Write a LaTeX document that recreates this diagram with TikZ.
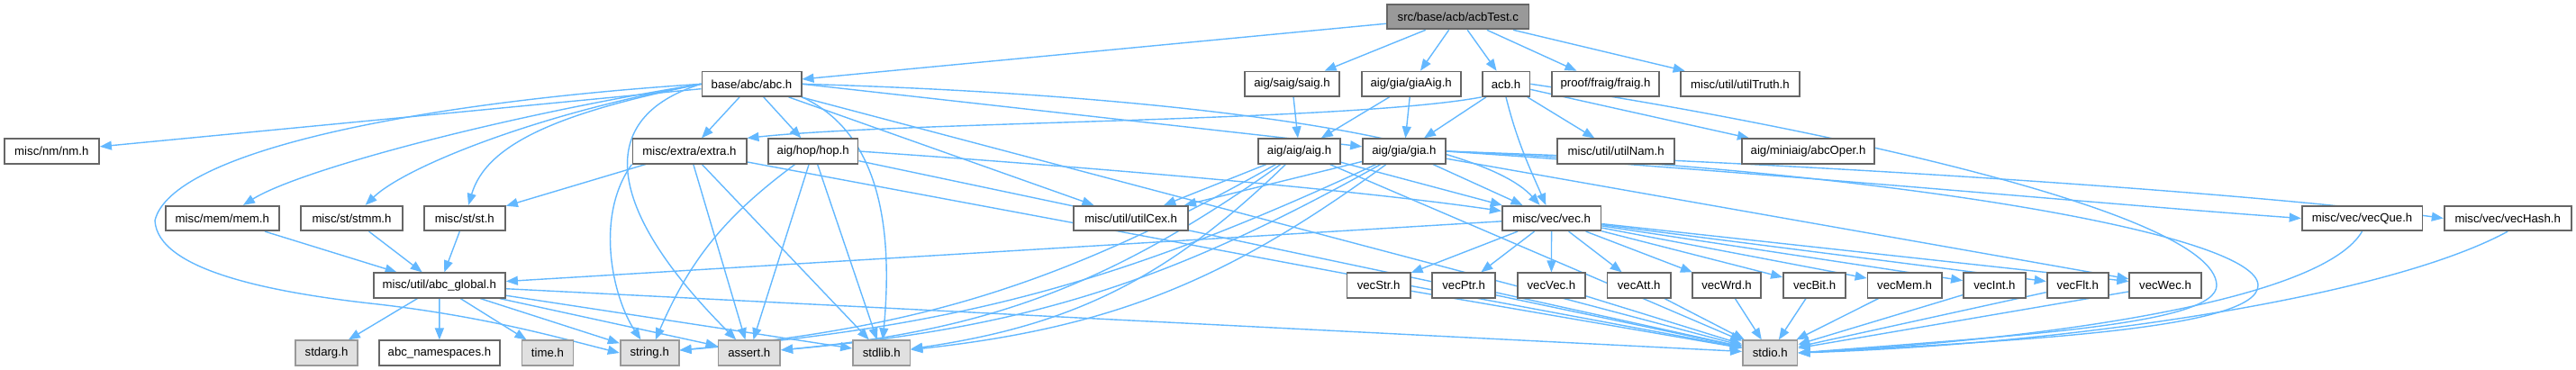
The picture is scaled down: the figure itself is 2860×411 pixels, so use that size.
\documentclass[tikz,border=0pt]{standalone}
\usepackage{fontspec}
\setmainfont{Liberation Sans}
\usetikzlibrary{arrows.meta,backgrounds}

\definecolor{edgeblue}{HTML}{63B8FF}
\definecolor{boxline}{HTML}{666666}
\definecolor{sysline}{HTML}{999999}
\definecolor{sysfill}{HTML}{E0E0E0}
\definecolor{rootfill}{HTML}{999999}

\begin{document}
\begin{tikzpicture}[
    x=0.5pt, y=-0.5pt,
    file/.style={rectangle, draw=boxline, line width=0.9pt, fill=white, minimum height=13.7pt, inner sep=0pt, font=\fontsize{6.6}{8}\selectfont},
    sysfile/.style={file, draw=sysline, fill=sysfill},
    rootfile/.style={file, fill=rootfill},
    dep/.style={-{Triangle[length=6.5pt,width=5pt]}, draw=edgeblue, line width=0.7pt}
]
    \useasboundingbox (0,0) rectangle (2860,411);

    % Root
    \node[rootfile, minimum width=78.7pt] (acbtest) at (1618.8,18.7) {src/base/acb/acbTest.c};

    % Second row
    \node[file, minimum width=55.1pt] (abc) at (834.5,93.3) {base/abc/abc.h};
    \node[file, minimum width=52.5pt] (saig) at (1434.5,93.3) {aig/saig/saig.h};
    \node[file, minimum width=55.1pt] (giaaig) at (1566.7,93.3) {aig/gia/giaAig.h};
    \node[file, minimum width=26.4pt] (acb) at (1672,93.3) {acb.h};
    \node[file, minimum width=59.6pt] (fraig) at (1782.5,93.3) {proof/fraig/fraig.h};
    \node[file, minimum width=65.9pt] (utiltruth) at (1931.9,93.3) {misc/util/utilTruth.h};

    % Third row
    \node[file, minimum width=52.7pt] (nm) at (57.3,168) {misc/nm/nm.h};
    \node[file, minimum width=63.1pt] (extra) at (765.5,168) {misc/extra/extra.h};
    \node[file, minimum width=49.8pt] (hop) at (902.7,168) {aig/hop/hop.h};
    \node[file, minimum width=45.5pt] (aig) at (1442.5,168) {aig/aig/aig.h};
    \node[file, minimum width=45.9pt] (gia) at (1558.9,168) {aig/gia/gia.h};
    \node[file, minimum width=64.9pt] (utilnam) at (1794.2,168) {misc/util/utilNam.h};
    \node[file, minimum width=73.5pt] (abcoper) at (2007.5,168) {aig/miniaig/abcOper.h};

    % Fourth row
    \node[file, minimum width=63.1pt] (mem) at (246.8,242.5) {misc/mem/mem.h};
    \node[file, minimum width=56.2pt] (stmm) at (390.5,242.5) {misc/st/stmm.h};
    \node[file, minimum width=45.2pt] (st) at (515.8,242.5) {misc/st/st.h};
    \node[file, minimum width=63.3pt] (utilcex) at (1255.6,242.5) {misc/util/utilCex.h};
    \node[file, minimum width=54.8pt] (vec) at (1722.6,242.5) {misc/vec/vec.h};
    \node[file, minimum width=66.9pt] (vecque) at (2622.5,242.5) {misc/vec/vecQue.h};
    \node[file, minimum width=70.5pt] (vechash) at (2784.2,242.5) {misc/vec/vecHash.h};

    % Fifth row
    \node[file, minimum width=73.2pt] (abcglobal) at (487.8,317) {misc/util/abc\_global.h};
    \node[file, minimum width=35.1pt] (vecstr) at (1530.6,317) {vecStr.h};
    \node[file, minimum width=35.1pt] (vecptr) at (1625.2,317) {vecPtr.h};
    \node[file, minimum width=37.6pt] (vecvec) at (1722.4,317) {vecVec.h};
    \node[file, minimum width=35.3pt] (vecatt) at (1819.7,317) {vecAtt.h};
    \node[file, minimum width=38.1pt] (vecwrd) at (1917,317) {vecWrd.h};
    \node[file, minimum width=34.6pt] (vecbit) at (2014.6,317) {vecBit.h};
    \node[file, minimum width=41.1pt] (vecmem) at (2114.6,317) {vecMem.h};
    \node[file, minimum width=34.4pt] (vecint) at (2214.4,317) {vecInt.h};
    \node[file, minimum width=34.2pt] (vecflt) at (2306.8,317) {vecFlt.h};
    \node[file, minimum width=39.7pt] (vecwec) at (2404,317) {vecWec.h};

    % System headers
    \node[sysfile, minimum width=34.2pt] (stdarg) at (362.5,392) {stdarg.h};
    \node[file, minimum width=67.2pt] (namespaces) at (487.9,392) {abc\_namespaces.h};
    \node[sysfile, minimum width=28.5pt] (time) at (607.9,392) {time.h};
    \node[sysfile, minimum width=32.5pt] (string) at (721.2,392) {string.h};
    \node[sysfile, minimum width=34.4pt] (assert) at (831.8,392) {assert.h};
    \node[sysfile, minimum width=31.7pt] (stdlib) at (978.7,392) {stdlib.h};
    \node[sysfile, minimum width=30.3pt] (stdio) at (1965.2,392) {stdio.h};

    \begin{scope}[on background layer]
    % From the root
    \draw[dep] (acbtest) -- (abc);
    \draw[dep] (acbtest) -- (saig);
    \draw[dep] (acbtest) -- (giaaig);
    \draw[dep] (acbtest) -- (acb);
    \draw[dep] (acbtest) -- (fraig);
    \draw[dep] (acbtest) -- (utiltruth);

    % base/abc/abc.h
    \draw[dep] (abc) -- (nm);
    \draw[dep] (abc) -- (extra);
    \draw[dep] (abc) -- (hop);
    \draw[dep] (abc.west) .. controls (550,130) and (330,190) .. (mem);
    \draw[dep] (abc.west) .. controls (600,125) and (450,185) .. (stmm);
    \draw[dep] (abc.west) .. controls (620,125) and (540,160) .. (st);
    \draw[dep] (abc.west) .. controls (450,115) and (190,170) .. (172,245) .. controls (175,300) and (300,325) .. (420,338) .. controls (540,352) and (620,375) .. (string.west);
    \draw[dep] (abc.west) .. controls (660,130) and (670,230) .. (assert);
    \draw[dep] (abc.south east) .. controls (960,140) and (995,220) .. (stdlib);
    \draw[dep] (abc) -- (stdio);
    \draw[dep] (abc) -- (utilcex);
    \draw[dep] (abc.east) -- (gia);
    \draw[dep] (abc.east) .. controls (1300,105) and (1640,150) .. (vec);

    % Second row
    \draw[dep] (saig) -- (aig);
    \draw[dep] (giaaig) -- (aig);
    \draw[dep] (giaaig) -- (gia);
    \draw[dep] (acb.south west) .. controls (1500,135) and (1000,135) .. (extra.north east);
    \draw[dep] (acb) -- (gia);
    \draw[dep] (acb) -- (utilnam);
    \draw[dep] (acb) -- (abcoper);
    \draw[dep] (acb.south) .. controls (1685,160) and (1700,190) .. (vec);
    \draw[dep] (acb.east) .. controls (1950,130) and (2460,230) .. (2461,317) .. controls (2461,360) and (2250,372) .. (stdio.east);

    % Third row
    \draw[dep] (extra) -- (st);
    \draw[dep] (extra.south west) .. controls (660,240) and (680,330) .. (string);
    \draw[dep] (extra) -- (assert);
    \draw[dep] (extra) -- (stdlib);
    \draw[dep] (extra) -- (stdio);
    \draw[dep] (hop) to[bend right=15] (string);
    \draw[dep] (hop) -- (assert);
    \draw[dep] (hop) -- (stdlib);
    \draw[dep] (hop) -- (stdio);
    \draw[dep] (hop.east) .. controls (1200,185) and (1500,210) .. (vec);
    \draw[dep] (aig) -- (vec);
    \draw[dep] (aig) -- (utilcex);
    \draw[dep] (aig) to[bend left=12] (string);
    \draw[dep] (aig) to[bend left=15] (assert);
    \draw[dep] (aig) to[bend left=18] (stdlib);
    \draw[dep] (aig) -- (stdio);
    \draw[dep] (gia) -- (vec);
    \draw[dep] (gia) -- (utilcex);
    \draw[dep] (gia) to[bend left=10] (string);
    \draw[dep] (gia) to[bend left=12] (assert);
    \draw[dep] (gia) to[bend left=15] (stdlib);
    \draw[dep] (gia) -- (vecwec);
    \draw[dep] (gia.east) .. controls (2000,195) and (2350,228) .. (vecque.west);
    \draw[dep] (gia.east) .. controls (2100,185) and (2550,220) .. (vechash.west);
    \draw[dep] (gia.east) .. controls (2100,190) and (2507,260) .. (2507,317) .. controls (2507,365) and (2250,378) .. (stdio.east);

    % Fourth row
    \draw[dep] (mem) -- (abcglobal);
    \draw[dep] (stmm) -- (abcglobal);
    \draw[dep] (st) -- (abcglobal);
    \draw[dep] (vec) -- (abcglobal);
    \draw[dep] (vec) -- (vecstr);
    \draw[dep] (vec) -- (vecptr);
    \draw[dep] (vec) -- (vecvec);
    \draw[dep] (vec) -- (vecatt);
    \draw[dep] (vec) -- (vecwrd);
    \draw[dep] (vec) -- (vecbit);
    \draw[dep] (vec) -- (vecmem);
    \draw[dep] (vec) -- (vecint);
    \draw[dep] (vec) -- (vecflt);
    \draw[dep] (vec) -- (vecwec);
    \draw[dep] (vecque.south) .. controls (2580,330) and (2300,375) .. (stdio.east);
    \draw[dep] (vechash.south) .. controls (2650,330) and (2300,382) .. (stdio.east);

    % Fifth row
    \draw[dep] (abcglobal) -- (stdarg);
    \draw[dep] (abcglobal) -- (namespaces);
    \draw[dep] (abcglobal) -- (time);
    \draw[dep] (abcglobal) -- (string);
    \draw[dep] (abcglobal) -- (assert);
    \draw[dep] (abcglobal) -- (stdlib);
    \draw[dep] (abcglobal) -- (stdio);
    \draw[dep] (vecstr) -- (stdio);
    \draw[dep] (vecptr) -- (stdio);
    \draw[dep] (vecvec) -- (stdio);
    \draw[dep] (vecatt) -- (stdio);
    \draw[dep] (vecwrd) -- (stdio);
    \draw[dep] (vecbit) -- (stdio);
    \draw[dep] (vecmem) -- (stdio);
    \draw[dep] (vecint) -- (stdio);
    \draw[dep] (vecflt) -- (stdio);
    \draw[dep] (vecwec) -- (stdio);
    \end{scope}
\end{tikzpicture}
\end{document}
